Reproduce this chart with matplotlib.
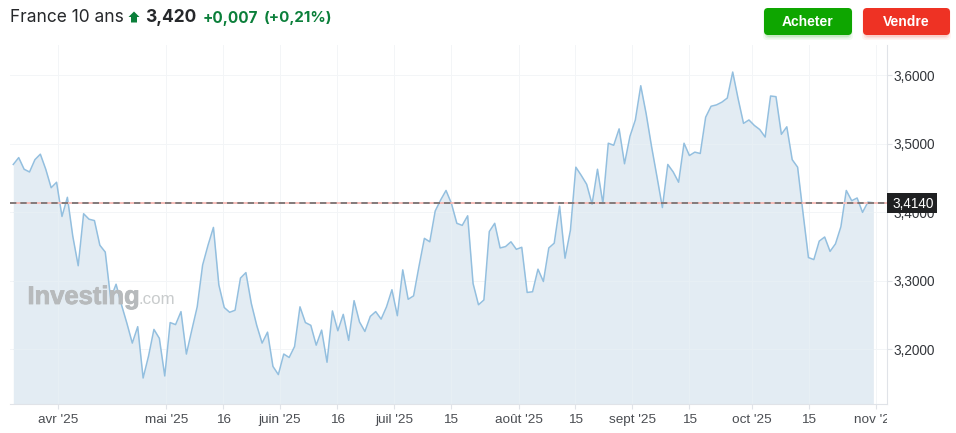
import numpy as np
import matplotlib
matplotlib.use("Agg")
import matplotlib.pyplot as plt
import matplotlib.patheffects as pe
from matplotlib.patches import FancyBboxPatch, Polygon, Rectangle
from matplotlib.transforms import Bbox

# yield, one value per trading day
yields = [
    3.470, 3.480, 3.463, 3.459, 3.477, 3.485, 3.463, 3.436, 3.444, 3.394,
    3.422, 3.365, 3.322, 3.398, 3.390, 3.388, 3.352, 3.342, 3.274, 3.295,
    3.265, 3.238, 3.209, 3.233, 3.158, 3.190, 3.229, 3.216, 3.161, 3.239,
    3.236, 3.255, 3.193, 3.228, 3.262, 3.323, 3.352, 3.378, 3.294, 3.261,
    3.254, 3.257, 3.304, 3.312, 3.267, 3.235, 3.209, 3.225, 3.175, 3.163,
    3.193, 3.188, 3.204, 3.262, 3.239, 3.235, 3.206, 3.228, 3.181, 3.256,
    3.227, 3.251, 3.213, 3.271, 3.240, 3.226, 3.248, 3.255, 3.244, 3.262,
    3.287, 3.249, 3.316, 3.273, 3.278, 3.321, 3.362, 3.357, 3.402, 3.418,
    3.432, 3.413, 3.384, 3.381, 3.395, 3.296, 3.265, 3.272, 3.372, 3.384,
    3.348, 3.350, 3.357, 3.346, 3.349, 3.283, 3.284, 3.317, 3.299, 3.348,
    3.355, 3.409, 3.333, 3.374, 3.466, 3.454, 3.441, 3.412, 3.463, 3.413,
    3.501, 3.498, 3.522, 3.471, 3.511, 3.535, 3.585, 3.544, 3.496, 3.452,
    3.407, 3.470, 3.459, 3.444, 3.501, 3.483, 3.488, 3.486, 3.539, 3.555,
    3.557, 3.561, 3.567, 3.605, 3.566, 3.530, 3.535, 3.527, 3.521, 3.510,
    3.570, 3.569, 3.514, 3.525, 3.477, 3.466, 3.399, 3.334, 3.331, 3.358,
    3.364, 3.343, 3.354, 3.379, 3.432, 3.417, 3.421, 3.400, 3.415, 3.414,
]
x_ticks = [8.32, 28.3, 38.8, 49.3, 59.85, 70.4, 80.9, 93.4, 103.9, 114.4, 125, 136.6, 147.1, 159.4]
x_labels = ["avr '25", "mai '25", "16", "juin '25", "16", "juil '25", "15", "août '25",
            "15", "sept '25", "15", "oct '25", "15", "nov '25"]
y_ticks = [3.2, 3.3, 3.4, 3.5, 3.6]
y_labels = ["3,2000", "3,3000", "3,4000", "3,5000", "3,6000"]
last_price = 3.414

W, H = 956, 433
fig = plt.figure(figsize=(W / 100, H / 100), dpi=100)
plt.rcParams["font.family"] = ["Liberation Sans", "DejaVu Sans"]

# main chart axes, placed by pixels
left, right, top, bottom = 10, 887.3, 45, 404.3
ax = fig.add_axes([left / W, 1 - bottom / H, (right - left) / W, (bottom - top) / H])
x = np.arange(len(yields))
fill = ax.fill_between(x, yields, 3.0, color="#e3ecf3", lw=0, zorder=1)
ax.plot(x, yields, color="#93bfdf", lw=1.1, zorder=3)
ax.set_xlim(-0.61, 161.58)
ax.set_ylim(3.1196, 3.6445)
ax.yaxis.tick_right()
ax.set_xticks(x_ticks)
ax.set_xticklabels(x_labels)
ax.set_yticks(y_ticks)
ax.set_yticklabels(y_labels)
ax.tick_params(axis="x", length=3.5, width=0.8, color="#e0e3e8", labelsize=9.7, labelcolor="#4a4d52", pad=3.5)
ax.tick_params(axis="y", length=3.5, width=0.8, color="#e0e3e8", labelsize=9.8, labelcolor="#33363b", pad=1)
ax.grid(True, color="#f3f5f7", lw=0.7)
ax.set_axisbelow(True)
for s in ["top", "left"]:
    ax.spines[s].set_visible(False)
for s in ["right", "bottom"]:
    ax.spines[s].set_color("#e0e3e8")
    ax.spines[s].set_linewidth(0.8)

# grid shows only faintly through the area
vl = ax.vlines(x_ticks, 3.0, 3.7, color="#e8f0f5", lw=0.7, zorder=2)
hl = ax.hlines(y_ticks, -1, 162, color="#e8f0f5", lw=0.7, zorder=2)
vl.set_clip_path(fill.get_paths()[0], ax.transData)
hl.set_clip_path(fill.get_paths()[0], ax.transData)
ax.set_xlim(-0.61, 161.58)
ax.set_ylim(3.1196, 3.6445)

# nov label gets cut at the right axis
nov = ax.get_xticklabels()[-1]
nov.set_clip_on(True)
nov.set_clip_box(Bbox([[0, 0], [right, H]]))

ax.axhline(last_price, color="#f6bdb9", lw=1.4, zorder=4)
ax.axhline(last_price, color="#6f6f70", lw=1.2, ls=(0, (3.8, 2.4)), zorder=5)

# overlay in pixel coordinates for header, buttons, badge
ov = fig.add_axes([0, 0, 1, 1], zorder=10)
ov.set_xlim(0, W)
ov.set_ylim(H, 0)
ov.axis("off")
ov.patch.set_alpha(0)

inter = ["Inter", "DejaVu Sans"]
green = "#0b7f3a"
ov.text(10, 18, "France 10 ans", family=inter, fontsize=12.5, color="#26282b", va="center")
ov.add_patch(Polygon([(134, 11.5), (139.5, 17), (137, 17), (137, 22.5), (131, 22.5), (131, 17), (128.5, 17)],
                     closed=True, color=green, lw=0))
ov.text(145, 18, "3,420", family=inter, fontsize=12.5, weight="bold", color="#26282b", va="center")
ov.text(203, 18, "+0,007", family=inter, fontsize=11, weight="bold", color=green, va="center")
ov.text(264, 18, "(+0,21%)", family=inter, fontsize=10.9, weight="bold", color=green, va="center")


def button(x0, x1, label, col):
    for grow, alpha in [(4, 0.05), (2.5, 0.08), (1.2, 0.12)]:
        ov.add_patch(FancyBboxPatch((x0 + 3 - grow, 11 - grow + 2), x1 - x0 - 6 + 2 * grow, 23 + 2 * grow,
                                    boxstyle="round,pad=0,rounding_size=4", fc=col, ec="none", alpha=alpha))
    ov.add_patch(FancyBboxPatch((x0, 8), x1 - x0, 27, boxstyle="round,pad=0,rounding_size=4", fc=col, ec="none"))
    ov.text((x0 + x1) / 2, 21.5, label, fontsize=10, weight="bold", color="white", ha="center", va="center")


button(764, 852, "Acheter", "#0ea600")
button(863, 950, "Vendre", "#ee3224")

# last price badge
ov.add_patch(Rectangle((887, 193), 50, 19.5, fc="#1f2022", ec="none"))
ov.text(893, 203.5, "3,4140", fontsize=9.8, color="white", va="center")

# watermark
wm = ov.text(27.5, 297, "Investing", fontsize=18.4, weight="bold", color="#b7babc", va="center")
wm.set_path_effects([pe.withStroke(linewidth=0.6, foreground="#b7babc")])
ov.text(139, 300, ".com", fontsize=12.2, color="#c9cccd", va="center")

fig.savefig("out.png", dpi=100)
